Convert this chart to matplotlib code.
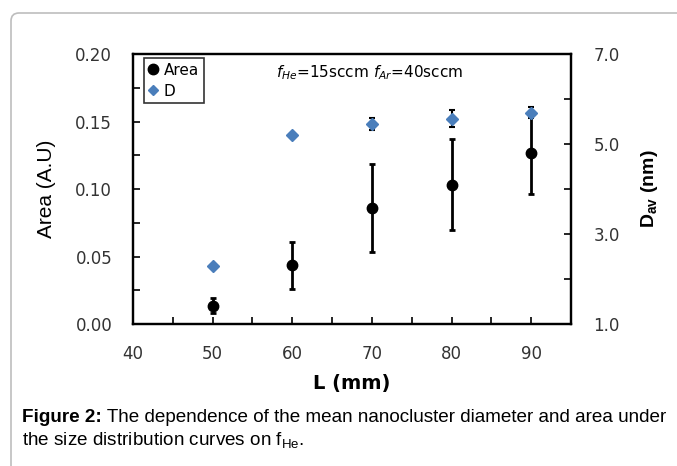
import matplotlib
matplotlib.use("Agg")
import matplotlib.pyplot as plt
from matplotlib.patches import FancyBboxPatch
from matplotlib.ticker import FixedLocator, FormatStrFormatter
from matplotlib.lines import Line2D

# Data
L_mm = [50, 60, 70, 80, 90]
area = [0.0135, 0.0435, 0.0857, 0.1032, 0.1267]
area_err = [0.0055, 0.0173, 0.0325, 0.0337, 0.0305]
d_av = [2.28, 5.21, 5.44, 5.56, 5.70]
d_err = [0.0, 0.0, 0.13, 0.19, 0.12]

x_ticks = [40, 50, 60, 70, 80, 90]
x_minor = [45, 55, 65, 75, 85]
left_ticks = [0.00, 0.05, 0.10, 0.15, 0.20]
left_minor = [0.025, 0.075, 0.125, 0.175]
right_ticks = [1.0, 3.0, 5.0, 7.0]
right_minor = [2.0, 4.0, 6.0]

fig = plt.figure(figsize=(6.77, 4.66), dpi=100)

# rounded gray frame
frame = FancyBboxPatch((0.11, -0.5), 7.0, 5.03, boxstyle="round,pad=0,rounding_size=0.08",
                       transform=fig.dpi_scale_trans, facecolor="none",
                       edgecolor="#bdbdbd", linewidth=1.2, zorder=-5)
fig.patches.append(frame)

ax = fig.add_axes([0.1965, 0.3047, 0.6470, 0.5794])
ax.set_facecolor("none")
ax2 = ax.twinx()

ax.errorbar(L_mm, area, yerr=area_err, fmt="o", color="black", ms=7.5,
            ecolor="black", elinewidth=2, capsize=2.5, capthick=2, zorder=3)
ax2.errorbar(L_mm, d_av, yerr=d_err, fmt="D", color="#4a7ebb", ms=6,
             ecolor="black", elinewidth=1.5, capsize=2.5, capthick=1.5, zorder=3)

ax.set_xlim(40, 95)
ax.set_ylim(0, 0.20)
ax2.set_ylim(1.0, 7.0)

ax.xaxis.set_major_locator(FixedLocator(x_ticks))
ax.xaxis.set_minor_locator(FixedLocator(x_minor))
ax.yaxis.set_major_locator(FixedLocator(left_ticks))
ax.yaxis.set_minor_locator(FixedLocator(left_minor))
ax.yaxis.set_major_formatter(FormatStrFormatter("%.2f"))
ax2.yaxis.set_major_locator(FixedLocator(right_ticks))
ax2.yaxis.set_minor_locator(FixedLocator(right_minor))
ax2.yaxis.set_major_formatter(FormatStrFormatter("%.1f"))

tick_col = "#333333"
for a in (ax, ax2):
    for s in a.spines.values():
        s.set_linewidth(1.6)
        s.set_color("black")
ax.tick_params(axis="both", which="both", direction="in", length=5, width=1.2,
               labelsize=12, labelcolor=tick_col, pad=15)
ax.tick_params(axis="x", pad=15)
ax.tick_params(axis="y", which="both", right=False)
ax.tick_params(axis="x", which="both", top=False)
ax2.tick_params(axis="y", which="both", direction="in", length=5, width=1.2,
                labelsize=12, labelcolor=tick_col, pad=16)

ax.set_xlabel("L (mm)", fontsize=14, fontweight="bold", labelpad=8)
ax.set_ylabel("Area (A.U)", fontsize=15, family=["Liberation Sans", "DejaVu Sans"],
              labelpad=14)
ax2.set_ylabel(r"D$_{\mathregular{av}}$ (nm)", fontsize=14, fontweight="bold",
               family=["Liberation Sans", "DejaVu Sans"], labelpad=14)

ax.text(0.54, 0.93, r"$f_{He}$=15sccm $f_{Ar}$=40sccm", transform=ax.transAxes,
        ha="center", va="center", fontsize=11)

handles = [Line2D([], [], marker="o", ls="none", color="black", ms=7.5),
           Line2D([], [], marker="D", ls="none", color="#4a7ebb", ms=5.5)]
leg = ax2.legend(handles, ["Area", "D"], loc="upper left", bbox_to_anchor=(0.025, 0.985),
                 fontsize=11, frameon=True, fancybox=False, edgecolor="black",
                 handlelength=0.6, handletextpad=0.4, borderpad=0.3, labelspacing=0.4,
                 borderaxespad=0)
leg.get_frame().set_linewidth(1.2)

cap_font = ["Liberation Sans", "DejaVu Sans"]
cap_size = 13.6
x0 = 22 / 677
y1 = 1 - 418 / 466
y2 = 1 - 441 / 466
tb = fig.text(x0, y1, "Figure 2:", fontsize=cap_size, family=cap_font,
              fontweight="bold", va="center")
renderer = fig.canvas.get_renderer()
bb = tb.get_window_extent(renderer=renderer)
fig.text(bb.x1 / fig.bbox.width, y1,
         " The dependence of the mean nanocluster diameter and area under",
         fontsize=cap_size, family=cap_font, va="center")
fig.text(x0, y2, r"the size distribution curves on f$_{\mathregular{He}}$.",
         fontsize=cap_size, family=cap_font, va="center")

fig.savefig("out.png", dpi=100)
